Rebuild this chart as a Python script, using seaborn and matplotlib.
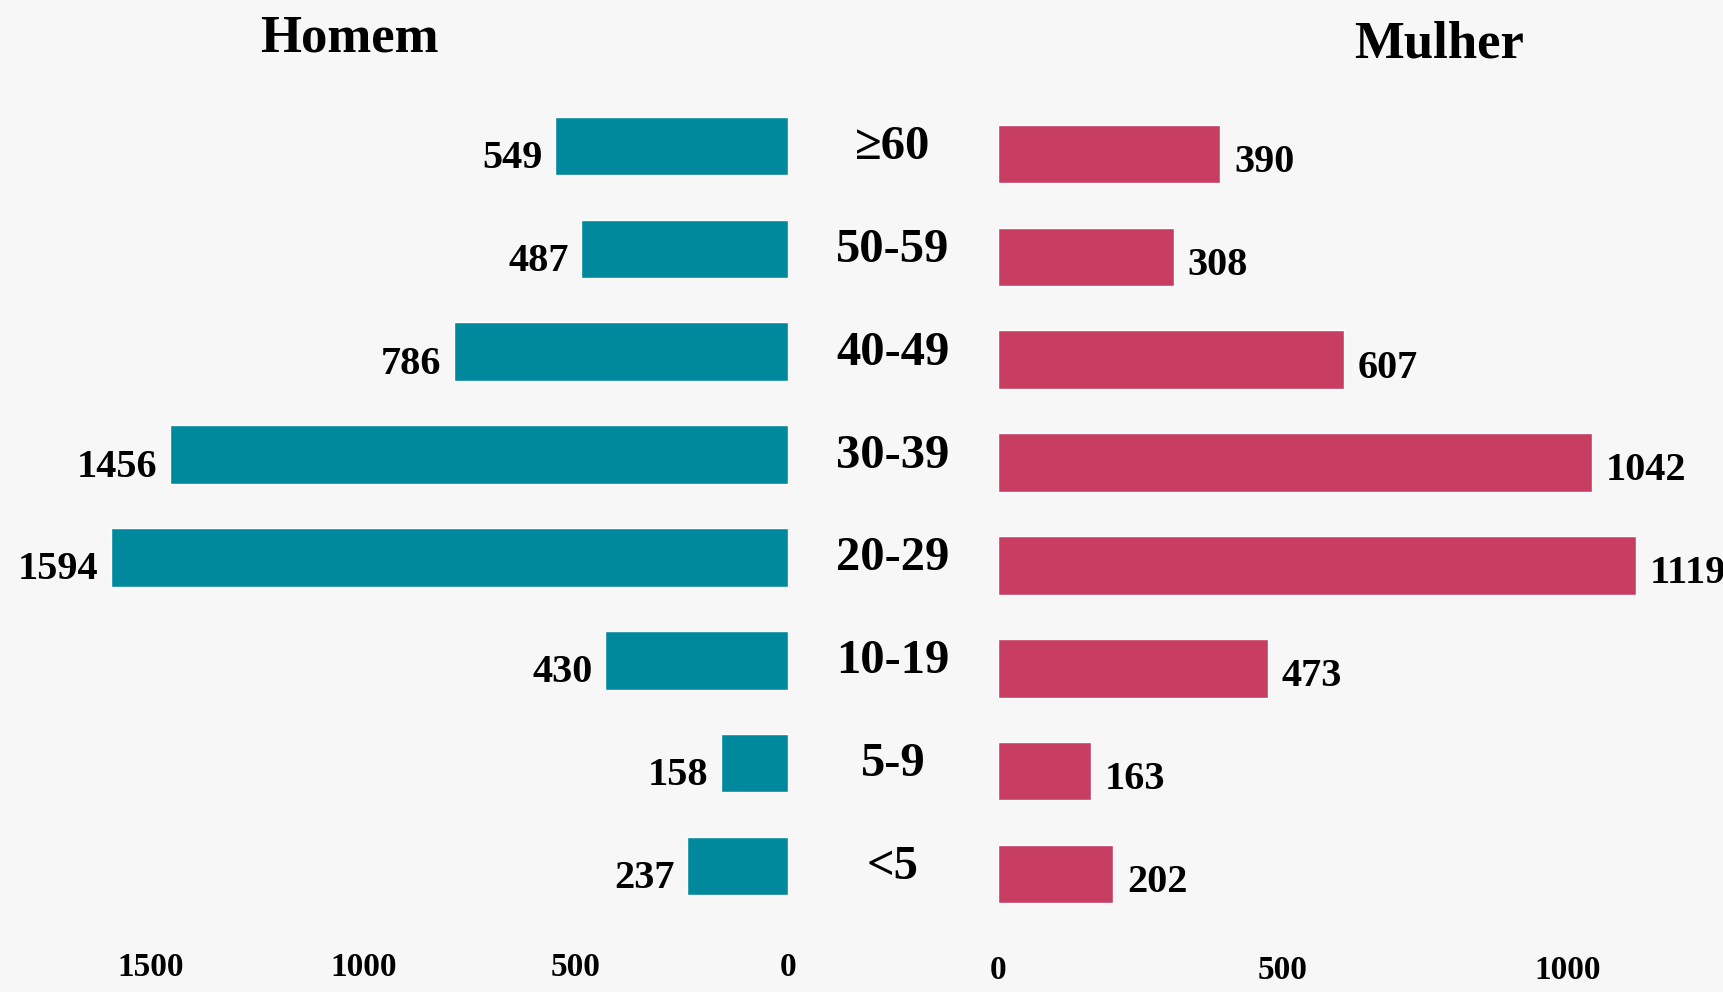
import numpy as np
import pandas as pd
import matplotlib
matplotlib.use("Agg")
import matplotlib.pyplot as plt
import matplotlib.transforms as mtransforms
import seaborn as sns

# ---- dados ----
faixas = ["≥60", "50-59", "40-49", "30-39", "20-29", "10-19", "5-9", "<5"]
homem = [549, 487, 786, 1456, 1594, 430, 158, 237]
mulher = [390, 308, 607, 1042, 1119, 473, 163, 202]
ticks_homem = [0, 500, 1000, 1500]
ticks_mulher = [0, 500, 1000]

COR_H = "#00889D"
COR_M = "#C83D62"
FUNDO = "#f7f7f7"
FONTE = ["Liberation Serif", "DejaVu Serif"]

sns.set_theme(style="white")
plt.rcParams["font.family"] = FONTE
plt.rcParams["font.weight"] = "bold"
plt.rcParams["text.color"] = "black"
plt.rcParams["xtick.color"] = "black"

W, H = 1724, 992
fig = plt.figure(figsize=(W / 100, H / 100), dpi=100, facecolor=FUNDO)

def px_axes(x0, y0, x1, y1):
    # coordenadas em pixels a partir do canto superior esquerdo
    return fig.add_axes([x0 / W, 1 - y1 / H, (x1 - x0) / W, (y1 - y0) / H])

esc_h = 0.4247   # px por unidade (lado esquerdo)
esc_m = 0.570    # px por unidade (lado direito)
passo = 102.9

axL = px_axes(20, 146 - passo / 2, 788, 866 + passo / 2)
axR = px_axes(998, 154 - passo / 2, 1724, 874 + passo / 2)

df_h = pd.DataFrame({"faixa": faixas, "n": homem})
df_m = pd.DataFrame({"faixa": faixas, "n": mulher})

sns.barplot(data=df_h, x="n", y="faixa", order=faixas, color=COR_H,
            saturation=1, width=0.57, ax=axL)
sns.barplot(data=df_m, x="n", y="faixa", order=faixas, color=COR_M,
            saturation=1, width=0.57, ax=axR)

axL.set_xlim(768 / esc_h, 0)
axR.set_xlim(0, 726 / esc_m)

for ax, ticks, pad in [(axL, ticks_homem, 25), (axR, ticks_mulher, 21)]:
    ax.set_ylim(len(faixas) - 0.5, -0.5)
    ax.set_facecolor("none")
    for s in ax.spines.values():
        s.set_visible(False)
    ax.set_xlabel("")
    ax.set_ylabel("")
    ax.set_yticks([])
    ax.set_xticks(ticks)
    ax.set_xticklabels([str(t) for t in ticks])
    ax.tick_params(axis="x", length=0, pad=pad, labelsize=24, labelcolor="black")
    for lab in ax.get_xticklabels():
        lab.set_fontweight("bold")

# rótulos de valores
for i, v in enumerate(homem):
    axL.annotate(str(v), (v, i), xytext=(-9, -9), textcoords="offset points",
                 ha="right", va="center", fontsize=29, fontweight="bold")
for i, v in enumerate(mulher):
    axR.annotate(str(v), (v, i), xytext=(10, -6), textcoords="offset points",
                 ha="left", va="center", fontsize=29, fontweight="bold")

# faixas etárias no centro
tr = mtransforms.blended_transform_factory(fig.transFigure, axL.transData)
for i, f in enumerate(faixas):
    fig.text(893 / W, i + 0.01, f, transform=tr, ha="center", va="center",
             fontsize=35, fontweight="bold")

fig.text(349 / W, 1 - 38 / H, "Homem", ha="center", va="center",
         fontsize=38, fontweight="bold")
fig.text(1439 / W, 1 - 45 / H, "Mulher", ha="center", va="center",
         fontsize=38, fontweight="bold")

fig.savefig("out.png", dpi=100, facecolor=FUNDO)
